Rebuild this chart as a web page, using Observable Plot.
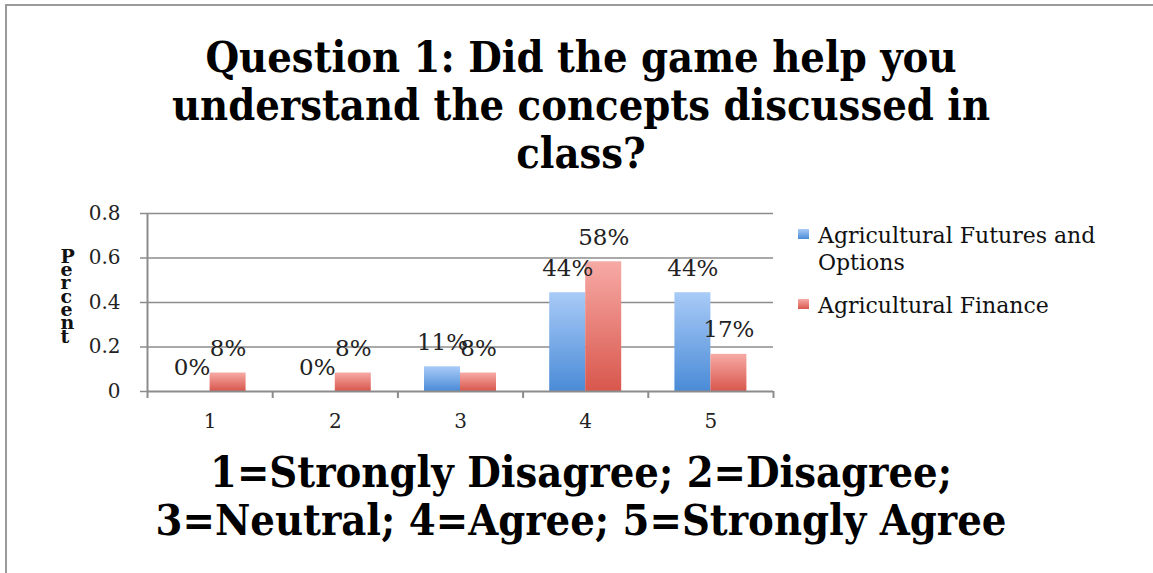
<!DOCTYPE html>
<html>
<head>
<meta charset="utf-8">
<script src="https://cdn.jsdelivr.net/npm/d3@7"></script>
<script src="https://cdn.jsdelivr.net/npm/@observablehq/plot@0.6"></script>
<style>
  html, body { margin: 0; padding: 0; background: #fff; }
  #chart { position: relative; width: 1153px; height: 573px; overflow: hidden; background: #fff; }
  #border { position: absolute; left: 5px; top: 4px; width: 1200px; height: 700px;
            border-top: 2px solid #9a9a9a; border-left: 2px solid #9a9a9a; }
  .big { position: absolute; left: 0; width: 1162px; text-align: center;
         font-family: "DejaVu Serif Condensed", "DejaVu Serif"; font-stretch: condensed;
         font-weight: bold; font-size: 43px; line-height: 48px; color: #000; }
  #title { top: 33px; }
  #caption { top: 448px; }
  #plot { position: absolute; left: 0; top: 190px; }
  .leg { position: absolute; left: 818px; width: 300px; font-family: "DejaVu Serif"; font-size: 22px;
         line-height: 27px; color: #111; }
  .sw { position: absolute; left: 798px; width: 11px; height: 10px; }
</style>
</head>
<body>
<div id="chart">
  <div id="border"></div>
  <div id="title" class="big"></div>
  <div id="plot"></div>
  <div id="sw0" class="sw"></div>
  <div id="leg0" class="leg"></div>
  <div id="sw1" class="sw"></div>
  <div id="leg1" class="leg"></div>
  <div id="caption" class="big"></div>
</div>
<script>
const titleLines = ["Question 1: Did the game help you", "understand the concepts discussed in", "class?"];
const captionLines = ["1=Strongly Disagree; 2=Disagree;", "3=Neutral; 4=Agree; 5=Strongly Agree"];
const categories = ["1", "2", "3", "4", "5"];
const seriesNames = ["Agricultural Futures and Options", "Agricultural Finance"];
const futures = [0, 0, 0.111, 0.444, 0.444];
const finance = [0.083, 0.083, 0.083, 0.583, 0.167];
const yTicks = [0, 0.2, 0.4, 0.6, 0.8];
const yLabel = "Percent";

document.getElementById("title").innerHTML = titleLines.join("<br>");
document.getElementById("caption").innerHTML = captionLines.join("<br>");

const half = 0.2875; // bar width in category units
const futRows = categories.map((c, i) => ({cat: i + 1, label: c, value: futures[i]}));
const finRows = categories.map((c, i) => ({cat: i + 1, label: c, value: finance[i]}));
const catNums = categories.map((c, i) => i + 1);
const bounds = [0.5, ...catNums.map(n => n + 0.5)];
const pct = v => Math.round(v * 100) + "%";

const gray = "#8c8c8c";
const defs = () => {
  const ns = "http://www.w3.org/2000/svg";
  const d = document.createElementNS(ns, "defs");
  d.innerHTML = `
    <linearGradient id="gBlue" x1="0" y1="0" x2="0" y2="1">
      <stop offset="0" stop-color="#a9cbf7"/><stop offset="1" stop-color="#4a8bd7"/>
    </linearGradient>
    <linearGradient id="gRed" x1="0" y1="0" x2="0" y2="1">
      <stop offset="0" stop-color="#f7aaa5"/><stop offset="1" stop-color="#d8574d"/>
    </linearGradient>`;
  return d;
};

const chart = Plot.plot({
  width: 1153,
  height: 251,
  marginTop: 23,
  marginBottom: 50,
  marginLeft: 147,
  marginRight: 380,
  style: {fontFamily: "DejaVu Serif", fontSize: "20px", color: "#222", background: "transparent"},
  x: {type: "linear", domain: [0.5, 5.5]},
  y: {domain: [0, 0.8]},
  marks: [
    defs,
    Plot.ruleY(yTicks.filter(t => t > 0), {stroke: gray, strokeWidth: 1.5}),
    Plot.axisY({ticks: yTicks, tickFormat: d => String(d), tickSize: 7, tickPadding: 20,
                stroke: gray, strokeWidth: 1.5, fontSize: 20, label: null}),
    Plot.rectY(futRows, {x1: d => d.cat - half, x2: "cat", y: "value", fill: "url(#gBlue)"}),
    Plot.rectY(finRows, {x1: "cat", x2: d => d.cat + half, y: "value", fill: "url(#gRed)"}),
    Plot.ruleX([0.5], {y1: 0, y2: 0.8, stroke: gray, strokeWidth: 2}),
    Plot.ruleY([0], {stroke: gray, strokeWidth: 2}),
    Plot.axisX({ticks: bounds, tickFormat: () => "", tickSize: 7, stroke: gray, strokeWidth: 2, label: null}),
    Plot.axisX({ticks: catNums, tickFormat: n => categories[n - 1], tickSize: 0, tickPadding: 22, fontSize: 20, label: null}),
    Plot.text(futRows, {x: d => d.cat - half / 2, y: "value", text: d => pct(d.value), lineAnchor: "bottom",
                        dy: -17, fontSize: 23, fill: "#222"}),
    Plot.text(finRows, {x: d => d.cat + half / 2, y: "value", text: d => pct(d.value), lineAnchor: "bottom",
                        dy: -17, fontSize: 23, fill: "#222"}),
    Plot.text([yLabel.split("").join("\n")], {frameAnchor: "left", dx: -87, dy: -4, lineHeight: 0.7,
                        fontSize: 19, fontWeight: "bold", fill: "#111"})
  ]
});
document.getElementById("plot").appendChild(chart);

const sw = [["#a9cbf7", "#4a8bd7"], ["#f7aaa5", "#d8574d"]];
const legTops = [222, 292];
seriesNames.forEach((name, i) => {
  const s = document.getElementById("sw" + i);
  s.style.top = (legTops[i] + 7) + "px";
  s.style.background = `linear-gradient(${sw[i][0]}, ${sw[i][1]})`;
  const l = document.getElementById("leg" + i);
  l.style.top = legTops[i] + "px";
  l.textContent = name;
});
</script>
</body>
</html>
